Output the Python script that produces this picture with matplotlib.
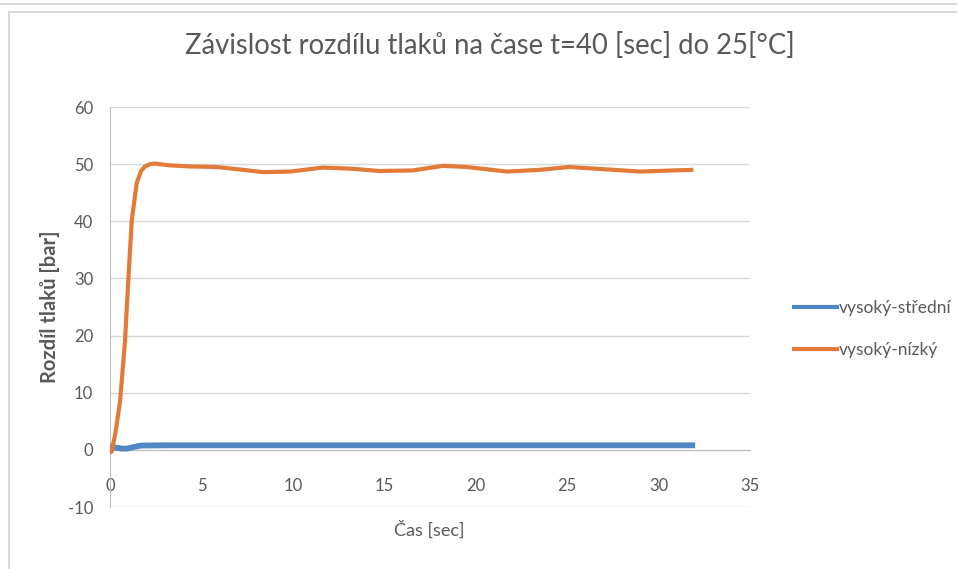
import matplotlib
matplotlib.use("Agg")
import matplotlib.pyplot as plt
from matplotlib.lines import Line2D

# Data
x_orange = [0.0, 0.09, 0.3, 0.55, 0.82, 1.0, 1.19, 1.46, 1.7, 1.91, 2.2, 2.46, 3.2, 4.37,
            5.83, 7.0, 8.36, 9.84, 11.64, 13.2, 14.75, 16.56, 18.2, 19.5, 21.7,
            23.5, 25.1, 26.6, 29.0, 30.8, 31.9]
y_orange = [-0.5, -0.3, 3.0, 8.5, 19.0, 29.6, 40.2, 46.7, 48.8, 49.6, 50.0, 50.1, 49.8, 49.6,
            49.5, 49.1, 48.6, 48.7, 49.4, 49.2, 48.8, 48.9, 49.7, 49.5, 48.7,
            49.0, 49.5, 49.2, 48.7, 48.9, 49.0]
x_blue = [0.0, 0.3, 0.6, 0.9, 1.3, 1.7, 3.0, 10.0, 20.0, 32.0]
y_blue = [0.6, 0.4, 0.25, 0.2, 0.5, 0.75, 0.8, 0.8, 0.8, 0.8]

series_names = ["vysoký-střední", "vysoký-nízký"]
title = "Závislost rozdílu tlaků na čase t=40 [sec] do 25[°C]"
xlabel = "Čas [sec]"
ylabel = "Rozdíl tlaků [bar]"
xticks = [0, 5, 10, 15, 20, 25, 30, 35]
yticks = [-10, 0, 10, 20, 30, 40, 50, 60]

plt.rcParams['font.family'] = ['Lato', 'DejaVu Sans']

W, H = 957, 569
fig = plt.figure(figsize=(W / 100, H / 100), dpi=100)

def fx(px):
    return px / W

def fy(py):
    return 1 - py / H

ax = fig.add_axes([fx(110), fy(507), fx(750) - fx(110), fy(107) - fy(507)])

blue = "#5187c4"
orange = "#e27b37"
grid_c = "#d9d9d9"
text_c = "#595959"

l1, = ax.plot(x_blue, y_blue, color=blue, lw=4.2, solid_capstyle='butt', zorder=3)
l2, = ax.plot(x_orange, y_orange, color=orange, lw=3.0, solid_capstyle='butt',
              solid_joinstyle='round', zorder=4)

ax.set_xlim(0, 35)
ax.set_ylim(-10, 60)
ax.set_xticks(xticks)
ax.set_yticks(yticks)
ax.set_xticklabels([str(v) for v in xticks])
ax.set_yticklabels([str(v) for v in yticks])
ax.yaxis.grid(True, color=grid_c, lw=1)
ax.set_axisbelow(True)

for s in ['top', 'right']:
    ax.spines[s].set_visible(False)
ax.spines['left'].set_color("#bfbfbf")
ax.spines['bottom'].set_position(('data', 0))
ax.spines['bottom'].set_color("#bfbfbf")
ax.tick_params(axis='both', length=0, labelsize=12, labelcolor=text_c)
ax.tick_params(axis='x', pad=20)
ax.tick_params(axis='y', pad=12)

fig.text(fx(490), fy(45), title, ha='center', va='center', fontsize=19.8, color=text_c)
fig.text(fx(429), fy(530), xlabel, ha='center', va='center', fontsize=13, color=text_c)
fig.text(fx(50), fy(307), ylabel, ha='center', va='center', rotation=90,
         fontsize=14.5, color=text_c, fontweight='bold')

# Legend
handles = [Line2D([], [], color=blue, lw=3), Line2D([], [], color=orange, lw=3)]
fig.legend(handles, series_names, loc='upper left', bbox_to_anchor=(fx(778), fy(284)),
           frameon=False, fontsize=12.5, labelcolor=text_c, handlelength=2.5,
           handletextpad=0.1, labelspacing=1.5)

# Chart frame
fig.add_artist(Line2D([0, 1], [fy(4), fy(4)], transform=fig.transFigure, color="#d9d9d9", lw=1.5))
fig.add_artist(Line2D([fx(9), 1], [fy(11.5), fy(11.5)], transform=fig.transFigure, color="#d9d9d9", lw=1.5))
fig.add_artist(Line2D([fx(9), fx(9)], [fy(11.5), 0], transform=fig.transFigure, color="#d9d9d9", lw=1.5))

fig.savefig("out.png", dpi=100, facecolor="white")
